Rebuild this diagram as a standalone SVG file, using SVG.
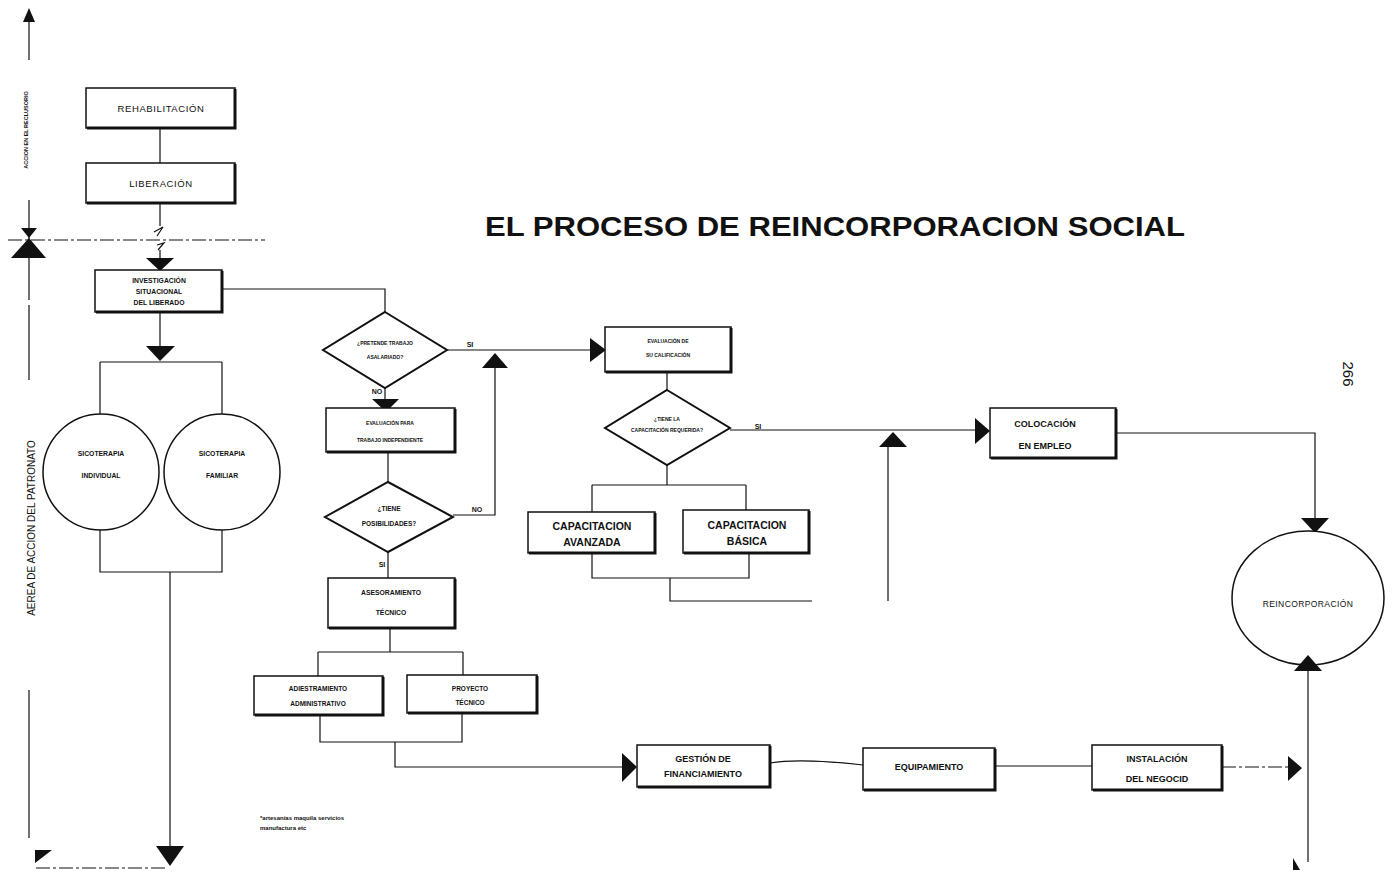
<svg xmlns="http://www.w3.org/2000/svg" width="1398" height="875" viewBox="0 0 1398 875">
<style>
.bx{fill:#fff;stroke:#111;stroke-width:1.5}
.sh{fill:none;stroke:#111;stroke-width:3}
.ln{fill:none;stroke:#111;stroke-width:1.2}
.dl{fill:none;stroke:#111;stroke-width:1.2;stroke-dasharray:14 3 3 3}
.t{font-family:"Liberation Sans",Arial,sans-serif;fill:#111;text-anchor:middle}
.s{font-family:"Liberation Sans",Arial,sans-serif;fill:#111;text-anchor:start}
.b{font-weight:bold}
.tri{fill:#111}
</style>
<rect width="1398" height="875" fill="#fff"/>
<text class="t b" x="835" y="236" font-size="27" textLength="700" lengthAdjust="spacingAndGlyphs">EL PROCESO DE REINCORPORACION SOCIAL</text>
<text class="t" x="1343" y="374" font-size="15" transform="rotate(90 1343 374)">266</text>

<g id="axis">
<path class="ln" d="M29,14 V60 M29,200 V300 M29,305 V380 M29,690 V838"/>
<polygon class="tri" points="29,8 23,22 35,22"/>
<text class="t b" x="28" y="130" font-size="5.5" transform="rotate(-90 28 130)">ACCION EN EL RECLUSORIO</text>
<text class="t" x="35" y="528" font-size="10" transform="rotate(-90 35 528)">AEREA DE ACCION DEL PATRONATO</text>
<polygon class="tri" points="29,238 11,258 46,258"/>
<polygon class="tri" points="21,228 37,228 29,238"/>
<path class="dl" d="M8,240 H265"/>
<polygon class="tri" points="35,850 52,850 35,863"/>
<path class="dl" d="M36,868 H165"/>
</g>

<g id="connectors">
<path class="ln" d="M160,128 V163 M160,203 V226 M160,250 V258"/>
<path class="ln" d="M154,232 L163,227 L157,236 M157,245 L164,243 L158,250"/>
<polygon class="tri" points="146,258 174,258 160,271"/>
<path class="ln" d="M222,289 H385 V312"/>
<path class="ln" d="M160,312 V346"/>
<polygon class="tri" points="146,346 175,346 160,361"/>
<path class="ln" d="M100,362 H222 M100,362 V418 M222,362 V418"/>
<path class="ln" d="M100,527 V572 H222 V527 M170,572 V848"/>
<polygon class="tri" points="156,846 184,846 170,866"/>
<path class="ln" d="M447,350 H590"/>
<text class="t b" x="470" y="347" font-size="7">SI</text>
<polygon class="tri" points="590,338 590,362 606,350"/>
<path class="ln" d="M495,368 V515 H453"/>
<polygon class="tri" points="482,368 508,368 495,353"/>
<text class="t b" x="477" y="512" font-size="7">NO</text>
<path class="ln" d="M385,388 V400"/>
<text class="t b" x="377" y="394" font-size="7">NO</text>
<polygon class="tri" points="372,399 399,399 386,412"/>
<path class="ln" d="M388,452 V482 M388,552 V578"/>
<text class="t b" x="382" y="567" font-size="7">SI</text>
<path class="ln" d="M390,628 V652 M318,652 H463 M318,652 V676 M463,652 V676"/>
<path class="ln" d="M320,715 V742 H462 V713 M395,742 V767 H622"/>
<polygon class="tri" points="622,753 622,782 637,767"/>
<path class="ln" d="M770,763 Q800,758 863,765 M995,766 H1092"/>
<path class="dl" d="M1222,767 H1288"/>
<polygon class="tri" points="1288,756 1288,781 1302,768"/>
<path class="ln" d="M1308,665 V862"/>
<polygon class="tri" points="1293,858 1300,870 1293,870"/>
<path class="ln" d="M667,372 V390 M667,465 V485 M592,485 H746 M592,485 V512 M746,485 V510"/>
<path class="ln" d="M730,430 H975"/>
<text class="t b" x="758" y="429" font-size="7">SI</text>
<polygon class="tri" points="975,418 975,444 990,431"/>
<polygon class="tri" points="879,447 907,447 893,432"/>
<path class="ln" d="M592,553 V578 H749 V553 M670,578 V601 H812 M888,601 V447"/>
<path class="ln" d="M1116,433 H1315 V518"/>
<polygon class="tri" points="1301,518 1329,518 1315,533"/>
</g>

<g id="rehabilitacion">
<rect class="bx" x="86" y="88" width="149" height="40"/>
<path class="sh" d="M87,128 H235 V89"/>
<text class="t" x="161" y="112" font-size="9.5" letter-spacing="0.6">REHABILITACIÓN</text>
</g>
<g id="liberacion">
<rect class="bx" x="86" y="163" width="149" height="40"/>
<path class="sh" d="M87,203 H235 V164"/>
<text class="t" x="161" y="187" font-size="9.5" letter-spacing="0.6">LIBERACIÓN</text>
</g>
<g id="investigacion">
<rect class="bx" x="95" y="270" width="127" height="42"/>
<path class="sh" d="M96,312 H222 V271"/>
<text class="t b" x="159" y="283" font-size="6.8">INVESTIGACIÓN</text>
<text class="t b" x="159" y="294" font-size="6.8">SITUACIONAL</text>
<text class="t b" x="159" y="305" font-size="6.8">DEL LIBERADO</text>
</g>
<g id="sico-individual">
<circle cx="101" cy="472" r="58" fill="#fff" stroke="#111" stroke-width="1.5"/>
<text class="t b" x="101" y="456" font-size="6.8">SICOTERAPIA</text>
<text class="t b" x="101" y="478" font-size="6.8">INDIVIDUAL</text>
</g>
<g id="sico-familiar">
<circle cx="222" cy="472" r="58" fill="#fff" stroke="#111" stroke-width="1.5"/>
<text class="t b" x="222" y="456" font-size="6.8">SICOTERAPIA</text>
<text class="t b" x="222" y="478" font-size="6.8">FAMILIAR</text>
</g>
<g id="pretende">
<polygon points="385,312 447,350 385,388 323,350" fill="#fff" stroke="#111" stroke-width="2"/>
<text class="t b" x="385" y="345" font-size="5">¿PRETENDE TRABAJO</text>
<text class="t b" x="385" y="359" font-size="5">ASALARIADO?</text>
</g>
<g id="eval-indep">
<rect class="bx" x="326" y="408" width="129" height="44"/>
<path class="sh" d="M327,452 H455 V409"/>
<text class="t b" x="390" y="425" font-size="5">EVALUACIÓN PARA</text>
<text class="t b" x="390" y="442" font-size="5">TRABAJO INDEPENDIENTE</text>
</g>
<g id="posibilidades">
<polygon points="388,482 453,517 388,552 325,517" fill="#fff" stroke="#111" stroke-width="2"/>
<text class="t b" x="389" y="511" font-size="6.5">¿TIENE</text>
<text class="t b" x="389" y="526" font-size="6.5">POSIBILIDADES?</text>
</g>
<g id="asesoramiento">
<rect class="bx" x="328" y="578" width="127" height="50"/>
<path class="sh" d="M329,628 H455 V579"/>
<text class="t b" x="391" y="595" font-size="6.8">ASESORAMIENTO</text>
<text class="t b" x="391" y="615" font-size="6.8">TÉCNICO</text>
</g>
<g id="adiestramiento">
<rect class="bx" x="254" y="676" width="129" height="39"/>
<path class="sh" d="M255,715 H383 V677"/>
<text class="t b" x="318" y="691" font-size="6.5">ADIESTRAMIENTO</text>
<text class="t b" x="318" y="706" font-size="6.5">ADMINISTRATIVO</text>
</g>
<g id="proyecto">
<rect class="bx" x="407" y="675" width="130" height="38"/>
<path class="sh" d="M408,713 H537 V676"/>
<text class="t b" x="470" y="691" font-size="6.5">PROYECTO</text>
<text class="t b" x="470" y="705" font-size="6.5">TÉCNICO</text>
</g>
<text class="s b" x="260" y="820" font-size="6">*artesanías maquila servicios</text>
<text class="s b" x="260" y="830" font-size="6">manufactura etc</text>
<g id="eval-calif">
<rect class="bx" x="605" y="327" width="126" height="45"/>
<path class="sh" d="M606,372 H731 V328"/>
<text class="t b" x="668" y="343" font-size="5">EVALUACIÓN DE</text>
<text class="t b" x="668" y="357" font-size="5">SU CALIFICACIÓN</text>
</g>
<g id="capacitacion-req">
<polygon points="667,390 730,428 667,465 605,428" fill="#fff" stroke="#111" stroke-width="2"/>
<text class="t b" x="667" y="421" font-size="5">¿TIENE LA</text>
<text class="t b" x="667" y="432" font-size="5">CAPACITACIÓN REQUERIDA?</text>
</g>
<g id="cap-avanzada">
<rect class="bx" x="528" y="512" width="127" height="41"/>
<path class="sh" d="M529,553 H655 V513"/>
<text class="t b" x="592" y="530" font-size="10.5">CAPACITACION</text>
<text class="t b" x="592" y="546" font-size="10.5">AVANZADA</text>
</g>
<g id="cap-basica">
<rect class="bx" x="683" y="510" width="126" height="43"/>
<path class="sh" d="M684,553 H809 V511"/>
<text class="t b" x="747" y="529" font-size="10.5">CAPACITACION</text>
<text class="t b" x="747" y="545" font-size="10.5">BÁSICA</text>
</g>
<g id="colocacion">
<rect class="bx" x="990" y="408" width="126" height="50"/>
<path class="sh" d="M991,458 H1116 V409"/>
<text class="t b" x="1045" y="427" font-size="9">COLOCACIÓN</text>
<text class="t b" x="1045" y="449" font-size="9">EN EMPLEO</text>
</g>
<g id="reincorporacion">
<ellipse cx="1308" cy="598" rx="76" ry="67" fill="#fff" stroke="#111" stroke-width="1.5"/>
<text class="t" x="1308" y="607" font-size="8.5" letter-spacing="0.4">REINCORPORACIÓN</text>
</g>
<polygon class="tri" points="1294,671 1322,671 1308,655"/>
<g id="gestion">
<rect class="bx" x="637" y="745" width="133" height="42"/>
<path class="sh" d="M638,787 H770 V746"/>
<text class="t b" x="703" y="762" font-size="9">GESTIÓN DE</text>
<text class="t b" x="703" y="777" font-size="9">FINANCIAMIENTO</text>
</g>
<g id="equipamiento">
<rect class="bx" x="863" y="748" width="132" height="42"/>
<path class="sh" d="M864,790 H995 V749"/>
<text class="t b" x="929" y="770" font-size="9">EQUIPAMIENTO</text>
</g>
<g id="instalacion">
<rect class="bx" x="1092" y="745" width="130" height="45"/>
<path class="sh" d="M1093,790 H1222 V746"/>
<text class="t b" x="1157" y="762" font-size="9">INSTALACIÓN</text>
<text class="t b" x="1157" y="782" font-size="9">DEL NEGOCID</text>
</g>
</svg>
